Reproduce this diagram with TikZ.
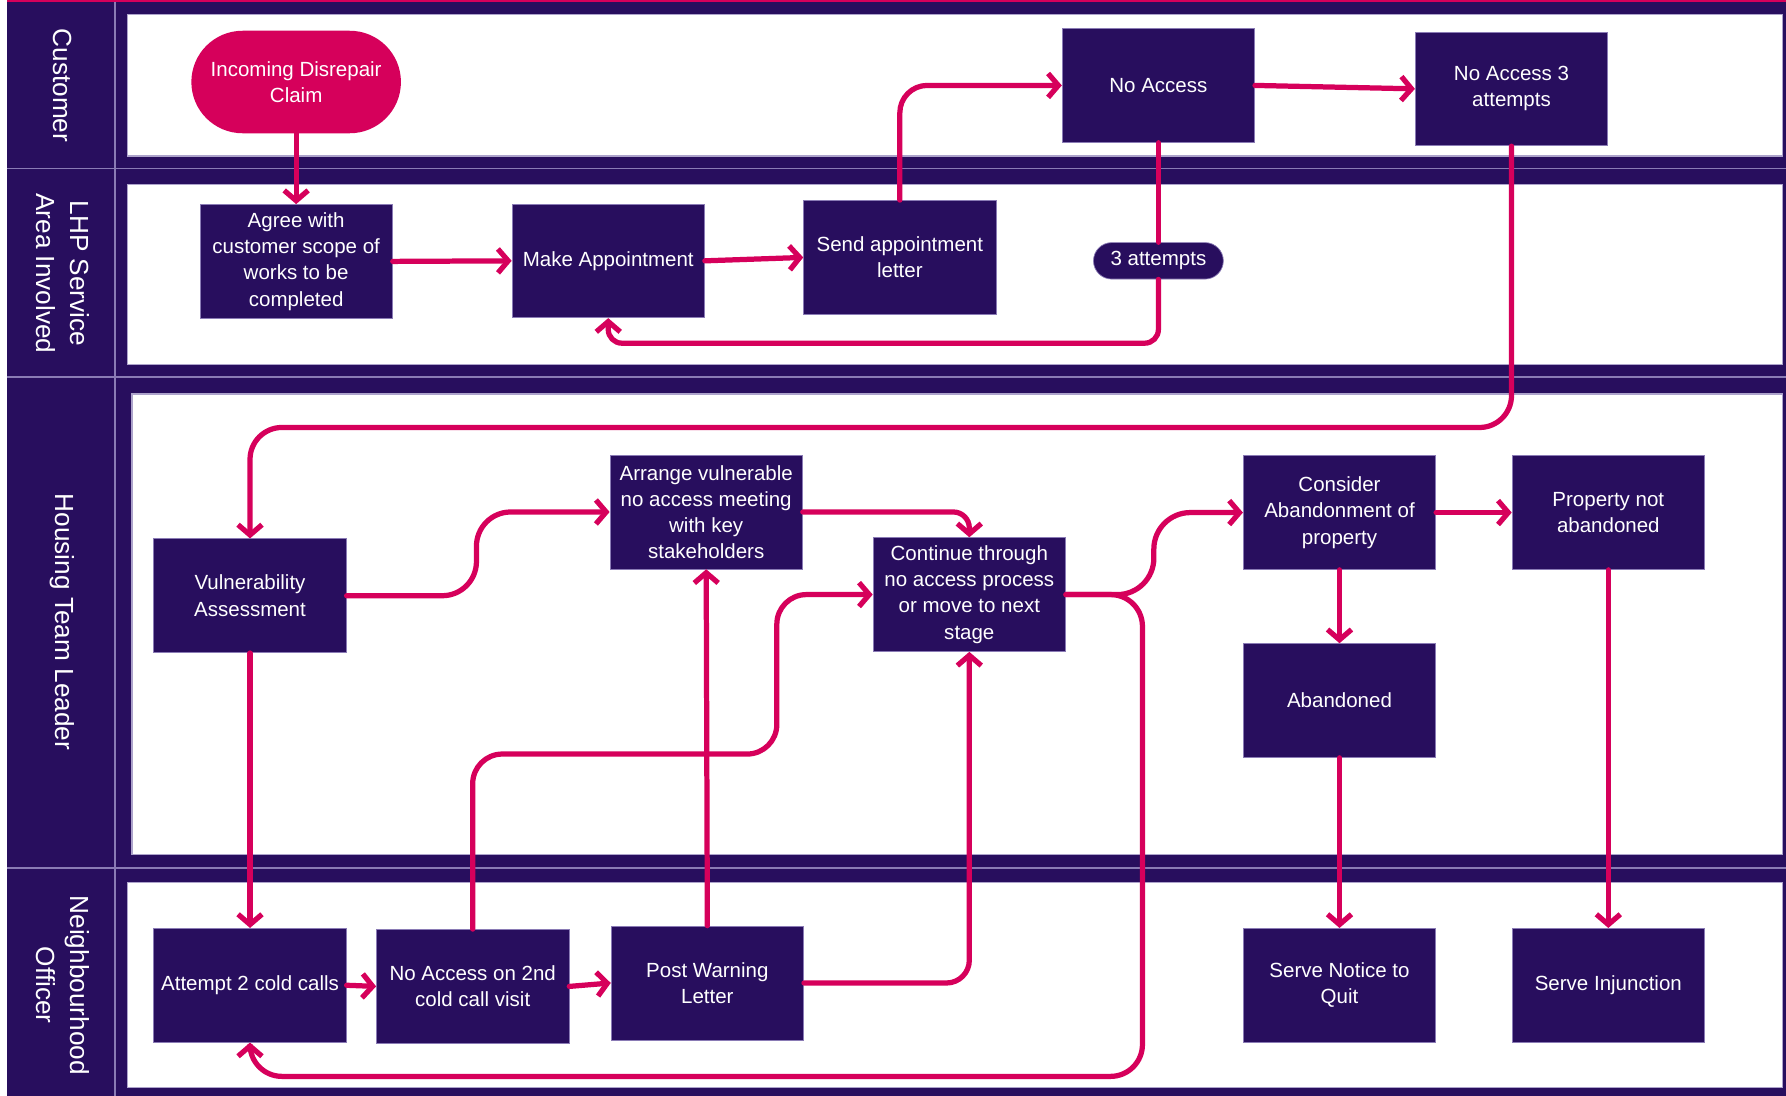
\documentclass[tikz,border=0pt]{standalone}
\usepackage{fontspec}
\setmainfont{Liberation Sans}
\usetikzlibrary{arrows.meta,calc}
\definecolor{dp}{HTML}{280E5E}
\definecolor{pk}{HTML}{D6005B}
\definecolor{lav}{HTML}{8A7BB5}
\begin{document}
\begin{tikzpicture}[x=0.5pt,y=-0.5pt,
  box/.style={fill=dp, draw=lav, line width=0.3pt, text=white, minimum width=84.5pt, minimum height=50pt, align=center, font=\fontsize{9}{11.5}\selectfont, inner sep=1pt},
  startbox/.style={box, fill=pk, draw=none, rounded corners=22.5pt, minimum width=92pt, minimum height=45pt},
  pill/.style={box, minimum width=57pt, minimum height=16pt, rounded corners=8pt},
  flow/.style={draw=pk, line width=2.3pt, rounded corners=12pt, line cap=round},
  arr/.style={flow, -{Straight Barb[length=4.5pt,width=10.5pt]}},
  lanehead/.style={text=white, rotate=-90, align=center, font=\fontsize{11.5}{15}\selectfont},
  panel/.style={fill=white, draw=lav!70, line width=0.6pt},
  sepline/.style={draw=lav, line width=0.6pt}
]
\useasboundingbox (0,0) rectangle (1568,962);
% background
\fill[white] (0,0) rectangle (1568,962);
\fill[dp] (6,0) rectangle (1568,962);
\fill[pk] (6,0) rectangle (1568,1.6);
% separators
\draw[sepline] (6,148) -- (1568,148);
\draw[sepline] (6,331) -- (1568,331);
\draw[sepline] (6,762) -- (1568,762);
\draw[sepline] (101,2) -- (101,962);
% panels
\draw[panel] (112,13) rectangle (1565,137);
\draw[panel] (112,162) rectangle (1565,320);
\draw[panel] (116,346) rectangle (1565,750);
\draw[panel] (112,775) rectangle (1565,955);
% lane headers
\node[lanehead] (hc) at (55,75) {Customer};
\node[lanehead] (hl) at (55,240) {LHP Service\\Area Involved};
\node[lanehead] (hh) at (55,546) {Housing Team Leader};
\node[lanehead] (hn) at (55,865) {Neighbourhood\\Officer};
% nodes
\node[startbox] (inc) at (260,72) {Incoming Disrepair\\Claim};
\node[box] (agree) at (260,229.5) {Agree with\\customer scope of\\works to be\\completed};
\node[box] (make) at (534,229) {Make Appointment};
\node[box] (send) at (790,226) {Send appointment\\letter};
\node[box] (noacc) at (1017,75) {No Access};
\node[box] (noacc3) at (1327,78) {No Access 3\\attempts};
\node[pill] (att) at (1017,229) {3 attempts};
\node[box] (vuln) at (219.5,523) {Vulnerability\\Assessment};
\node[box] (arrange) at (620,449.5) {Arrange vulnerable\\no access meeting\\with key\\stakeholders};
\node[box] (cont) at (851,522) {Continue through\\no access process\\or move to next\\stage};
\node[box] (consider) at (1176,450) {Consider\\Abandonment of\\property};
\node[box] (notab) at (1412,450) {Property not\\abandoned};
\node[box] (aband) at (1176,615) {Abandoned};
\node[box] (cold) at (219.5,865) {Attempt 2 cold calls};
\node[box] (nac2) at (415,866) {No Access on 2nd\\cold call visit};
\node[box] (post) at (621,863) {Post Warning\\Letter};
\node[box] (quit) at (1176,865) {Serve Notice to\\Quit};
\node[box] (inj) at (1412,865) {Serve Injunction};
% connectors
\draw[arr] (inc.south) -- (agree.north);
\draw[arr] (agree.east) -- (make.west);
\draw[arr] (make.east) -- (send.west);
\draw[arr] (send.north) |- (noacc.west);
\draw[arr] (noacc.east) -- (noacc3.west);
\draw[flow] (noacc.south) -- (att.north);
\draw[arr, rounded corners=6pt] (att.south) -- ++(0,56) -| (make.south);
\draw[arr, rounded corners=14pt] (noacc3.south) -- ++(0,247) -| (vuln.north);
\draw[arr, rounded corners=15pt] (vuln.east) -- ++(114,0) |- (arrange.west);
\draw[arr, rounded corners=7pt] (arrange.east) -| (cont.north);
\draw[arr] (vuln.south) -- (cold.north);
\draw[arr] (cold.east) -- (nac2.west);
\draw[arr] (nac2.east) -- (post.west);
\draw[arr, rounded corners=13pt] (nac2.north) |- (682,662) |- (cont.west);
\draw[arr] (post.north) -- (arrange.south);
\draw[arr, rounded corners=10pt] (post.east) -| (cont.south);
\draw[arr, rounded corners=16pt] (cont.east) -- (1013,522) |- (consider.west);
\draw[arr, rounded corners=14pt] (cont.east) -| (1003,945) -| (cold.south);
\draw[arr] (consider.east) -- (notab.west);
\draw[arr] (consider.south) -- (aband.north);
\draw[arr] (aband.south) -- (quit.north);
\draw[arr] (notab.south) -- (inj.north);
\end{tikzpicture}
\end{document}
